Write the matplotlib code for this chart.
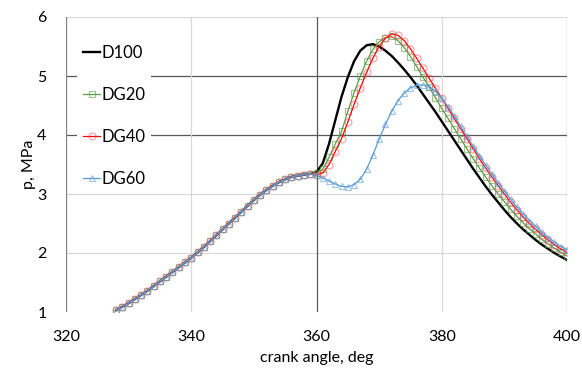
import numpy as np
import matplotlib
matplotlib.use("Agg")
import matplotlib.pyplot as plt

plt.rcParams['font.family'] = ['Lato', 'DejaVu Sans']

# crank angle, deg (1-degree steps)
angle = list(range(328, 401))

# common compression part 328..359
compression = [1.03, 1.09, 1.15, 1.22, 1.29, 1.36, 1.44, 1.52, 1.60, 1.68,
               1.76, 1.84, 1.92, 2.01, 2.10, 2.20, 2.30, 2.40, 2.50, 2.60,
               2.70, 2.80, 2.90, 2.99, 3.07, 3.14, 3.20, 3.25, 3.29, 3.31,
               3.33, 3.34]

# 360..400
d100_comb = [3.37, 3.52, 3.85, 4.25, 4.65, 4.98, 5.25, 5.43, 5.52, 5.54,
             5.50, 5.43, 5.34, 5.23, 5.11, 4.98, 4.84, 4.69, 4.54, 4.39,
             4.23, 4.07, 3.91, 3.75, 3.59, 3.43, 3.28, 3.13, 2.99, 2.86,
             2.73, 2.61, 2.50, 2.40, 2.31, 2.22, 2.14, 2.07, 2.00, 1.94,
             1.88]
dg20_comb = [3.35, 3.42, 3.62, 3.85, 4.06, 4.40, 4.72, 5.00, 5.25, 5.45,
             5.58, 5.65, 5.67, 5.60, 5.48, 5.33, 5.16, 4.98, 4.81, 4.63,
             4.45, 4.28, 4.11, 3.94, 3.77, 3.60, 3.44, 3.29, 3.14, 3.00,
             2.87, 2.74, 2.62, 2.51, 2.41, 2.32, 2.23, 2.15, 2.08, 2.01,
             1.95]
dg40_comb = [3.32, 3.36, 3.50, 3.72, 3.94, 4.22, 4.52, 4.80, 5.06, 5.30,
             5.50, 5.64, 5.71, 5.69, 5.60, 5.46, 5.30, 5.13, 4.96, 4.79,
             4.62, 4.45, 4.28, 4.11, 3.94, 3.77, 3.60, 3.44, 3.29, 3.14,
             3.00, 2.86, 2.73, 2.61, 2.50, 2.40, 2.31, 2.22, 2.14, 2.07,
             2.01]
dg60_comb = [3.32, 3.27, 3.22, 3.17, 3.13, 3.12, 3.16, 3.25, 3.42, 3.66,
             3.93, 4.18, 4.40, 4.58, 4.71, 4.80, 4.84, 4.85, 4.82, 4.74,
             4.62, 4.48, 4.32, 4.15, 3.98, 3.81, 3.65, 3.49, 3.34, 3.19,
             3.05, 2.91, 2.78, 2.66, 2.55, 2.45, 2.35, 2.26, 2.18, 2.11,
             2.05]

series_names = ["D100", "DG20", "DG40", "DG60"]
x_ticks = [320, 340, 360, 380, 400]
y_ticks = [1, 2, 3, 4, 5, 6]

d100 = compression + d100_comb
dg20 = compression + dg20_comb
dg40 = compression + dg40_comb
dg60 = compression + dg60_comb

fig = plt.figure(figsize=(5.82, 3.72), dpi=100)
ax = fig.add_axes([66/582, 1 - 312/372, (567-66)/582, (312-17)/372])
ax.set_xlim(320, 400)
ax.set_ylim(1, 6)

# gridlines (some rendered darker in the reference)
light = "#D9D9D9"
dark = "#595959"
hcol = {6: light, 5: dark, 4: dark, 3: light, 2: light}
for yv, c in hcol.items():
    ax.axhline(yv, color=c, lw=0.9, zorder=0)
vcol = {320: "#808080", 340: light, 360: dark, 380: light, 400: "#808080"}
for xv, c in vcol.items():
    ax.axvline(xv, color=c, lw=0.9, zorder=0)

for s in ax.spines.values():
    s.set_visible(False)

ax.plot(angle, d100, color="black", lw=1.7, label=series_names[0], zorder=3)
ax.plot(angle, dg20, color="#5B9B48", lw=0.9, marker="s", ms=4.5,
        mfc="none", mec=(0.36, 0.61, 0.28, 0.6), mew=0.8,
        label=series_names[1], zorder=4)
ax.plot(angle, dg40, color="#FF0000", lw=0.9, marker="o", ms=5,
        mfc="none", mec=(1.0, 0.3, 0.3, 0.55), mew=0.8,
        label=series_names[2], zorder=5)
ax.plot(angle, dg60, color="#5B9BD5", lw=0.9, marker="^", ms=5,
        mfc="none", mec=(0.36, 0.61, 0.84, 0.6), mew=0.8,
        label=series_names[3], zorder=6)

ax.set_xticks(x_ticks)
ax.set_yticks(y_ticks)
ax.tick_params(length=0, labelsize=11.5, colors="black")
ax.tick_params(axis="y", pad=14)
ax.tick_params(axis="x", pad=13)
ax.set_xlabel("crank angle, deg", fontsize=11.5, labelpad=5)
ax.set_ylabel("p, MPa", fontsize=11.5, labelpad=1)

leg = ax.legend(loc="upper left", bbox_to_anchor=(0.006, 0.952),
                frameon=True, facecolor="white", edgecolor="none",
                framealpha=1, fancybox=False, fontsize=12,
                handlelength=1.0, handletextpad=0.1, labelspacing=1.55,
                borderpad=0.35, numpoints=1)
leg.set_zorder(10)

fig.savefig("out.png", dpi=100)
